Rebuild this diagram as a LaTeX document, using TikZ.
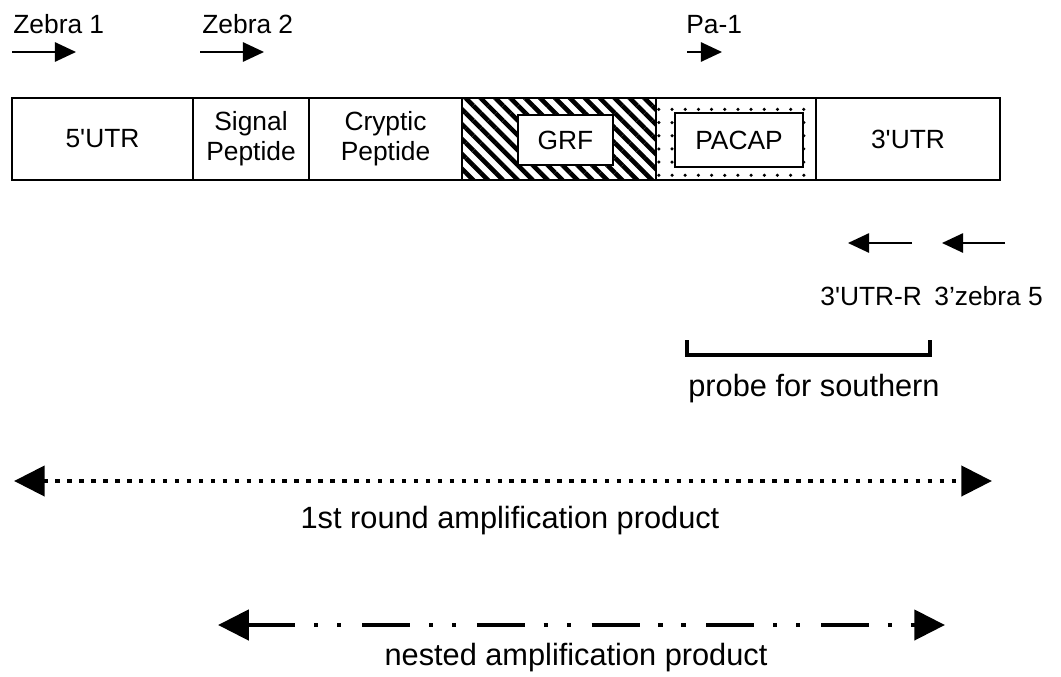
\documentclass[tikz,border=0pt]{standalone}
\usepackage{fontspec}
\setmainfont{Liberation Sans}
\usetikzlibrary{arrows.meta,patterns.meta}

\tikzset{
  seg/.style={draw, line width=1.5pt, inner sep=0pt, outer sep=0pt,
    minimum height=1.64cm, align=center, font=\fontsize{15}{17}\selectfont},
  inbox/.style={draw, fill=white, line width=0.9pt, inner sep=0pt,
    font=\fontsize{15}{17}\selectfont},
  lbl/.style={inner sep=0pt, font=\fontsize{15}{17}\selectfont},
  biglbl/.style={inner sep=0pt, font=\fontsize{17.5}{20}\selectfont},
  primer/.style={line width=1pt, -{Triangle[length=12pt,width=11pt]}},
  product/.style={line width=2.8pt,
    {Triangle[length=17.5pt,width=17pt]}-{Triangle[length=17.5pt,width=17pt]}},
}

\begin{document}
\begin{tikzpicture}[x=0.02cm, y=-0.02cm]
    \useasboundingbox (0,0) rectangle (1061,676);

    % the transcript
    \node[seg, minimum width=3.62cm] (utr5) at (102.5,139) {5\textquotesingle UTR};
    \node[seg, minimum width=2.32cm] (sig) at (251,139) {Signal\\Peptide};
    \node[seg, minimum width=3.06cm] (cry) at (385.5,139) {Cryptic\\Peptide};
    \node[seg, minimum width=3.88cm, pattern={Lines[angle=-45,distance=6pt,line width=2.6pt]}] (grf) at (559,139) {};
    \node[seg, minimum width=3.2cm, pattern={Dots[distance=7.5pt,radius=1pt]}] (pacap) at (736,139) {};
    \node[seg, minimum width=3.68cm] (utr3) at (908,139) {3\textquotesingle UTR};
    \node[inbox, minimum width=1.9cm, minimum height=1.0cm] (grfbox) at (565.5,140) {GRF};
    \node[inbox, minimum width=2.56cm, minimum height=1.08cm] (pacapbox) at (739,140) {PACAP};

    % primers
    \node[lbl, anchor=base west] (zebra1) at (13,33) {Zebra 1};
    \node[lbl, anchor=base west] (zebra2) at (202,33) {Zebra 2};
    \node[lbl, anchor=base west] (pa1) at (686,33) {Pa-1};
    \node[lbl, anchor=base west] (utrR) at (820,305) {3\textquotesingle UTR-R};
    \node[lbl, anchor=base west] (zebra5) at (934,305) {3’zebra 5};
    \coordinate (z1a) at (12,52);   \coordinate (z1b) at (76,52);
    \coordinate (z2a) at (200,52);  \coordinate (z2b) at (264,52);
    \coordinate (p1a) at (687,52);  \coordinate (p1b) at (722,52);
    \coordinate (ura) at (912,243); \coordinate (urb) at (848,243);
    \coordinate (z5a) at (1005,243); \coordinate (z5b) at (942,243);
    \draw[primer] (z1a) -- (z1b);
    \draw[primer] (z2a) -- (z2b);
    \draw[primer] (p1a) -- (p1b);
    \draw[primer] (ura) -- (urb);
    \draw[primer] (z5a) -- (z5b);

    % probe
    \coordinate (prL) at (687,340);
    \coordinate (prR) at (930,340);
    \draw[line width=2.6pt, line join=miter] (prL) -- ++(0,15) -| (prR);
    \node[biglbl, anchor=base] (probe) at (814,396) {probe for southern};

    % products
    \coordinate (r1L) at (14,481);  \coordinate (r1R) at (992,481);
    \draw[product, dash pattern=on 2.5pt off 4.3pt] (r1L) -- (r1R);
    \node[biglbl, anchor=base] (round1) at (510,528) {1st round amplification product};
    \coordinate (nsL) at (218,625); \coordinate (nsR) at (945,625);
    \draw[product, dash pattern=on 27.2pt off 10.8pt on 2.3pt off 10.8pt on 2.3pt off 11.9pt] (nsL) -- (nsR);
    \node[biglbl, anchor=base] (nested) at (576,665) {nested amplification product};
\end{tikzpicture}
\end{document}
